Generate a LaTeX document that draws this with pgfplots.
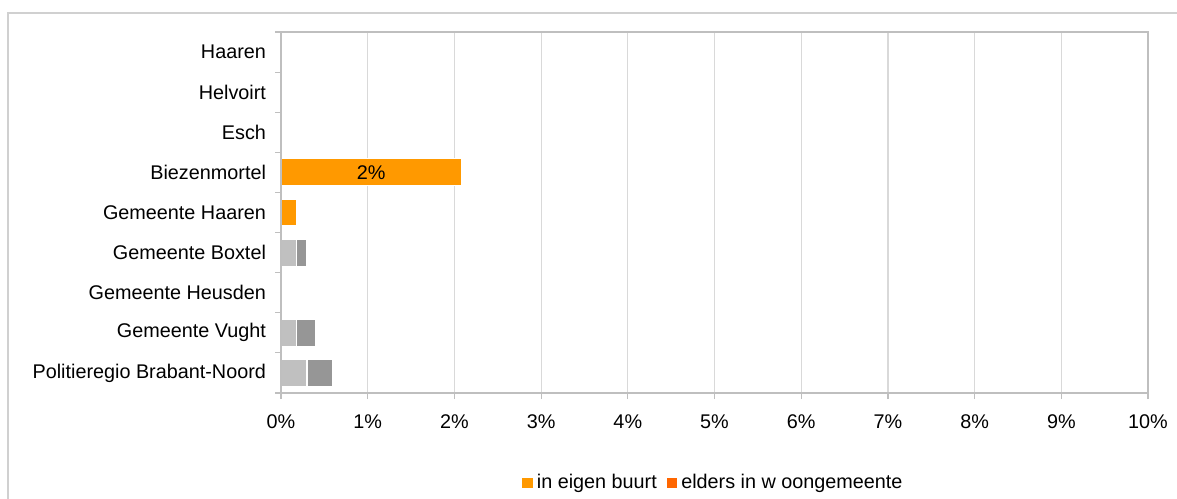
\documentclass[border=0pt]{standalone}
\usepackage{fontspec}
\setmainfont{Liberation Sans}
\usepackage{pgfplots}
\pgfplotsset{compat=1.18}
\usepackage{pgfplotstable}
\definecolor{eigen}{HTML}{FF9900}
\definecolor{elders}{HTML}{FF6600}
\definecolor{refl}{HTML}{C0C0C0}
\definecolor{refd}{HTML}{969696}
\definecolor{axisgray}{HTML}{BFBFBF}
\definecolor{gridgray}{HTML}{D9D9D9}
\definecolor{framegray}{HTML}{D0D0D0}
\pgfplotsset{
  layers/mylayers/.define layer set={axis background,axis grid,main,axis ticks,axis lines,axis tick labels,axis descriptions,axis foreground}{/pgfplots/layers/standard},
}
\pgfplotstableread{
y eigen reflight elders refdark lab
0 0    0.30 0 0.30 {}
1 0    0.18 0 0.22 {}
2 0    0    0 0    {}
3 0    0.18 0 0.12 {}
4 0.18 0    0 0    {}
5 2.08 0    0 0    2\%
6 0    0    0 0    {}
7 0    0    0 0    {}
8 0    0    0 0    {}
}\data
\begin{document}
\begin{tikzpicture}
\begin{axis}[
  set layers=mylayers,
  at={(140.5pt,52.5pt)}, anchor=south west,
  width=433.5pt, height=180.5pt, scale only axis,
  xbar stacked, bar width=13.5pt,
  xmin=0, xmax=10, ymin=-0.5, ymax=8.5,
  xtick={0,1,...,10},
  /pgf/number format/assume math mode=true,
  xticklabel={\pgfmathprintnumber{\tick}\%},
  ytick={-0.5,0.5,1.5,2.5,3.5,4.5,5.5,6.5,7.5,8.5},
  yticklabels={Politieregio Brabant-Noord,Gemeente Vught,Gemeente Heusden,Gemeente Boxtel,Gemeente Haaren,Biezenmortel,Esch,Helvoirt,Haaren},
  y tick label as interval,
  xtick pos=lower, ytick pos=left,
  xmajorgrids, grid style={gridgray, line width=0.6pt},
  axis line style={axisgray, line width=0.9pt},
  tick style={axisgray, line width=0.6pt},
  tick align=outside, major tick length=3pt,
  x tick label style={font=\fontsize{9.9}{12}\selectfont, yshift=-4.5pt},
  y tick label style={font=\fontsize{9.9}{12}\selectfont, xshift=-1pt},
  legend style={at={(0.5,-0.249)}, anchor=center, draw=none, fill=none,
    font=\fontsize{9.9}{12}\selectfont, legend columns=2,
    /tikz/every even column/.append style={column sep=3pt}},
  legend image code/.code={\fill[#1,draw=none] (-1.6pt,-2.6pt) rectangle (3.6pt,2.6pt);},
]
\addplot[fill=eigen, draw=white, line width=0.6pt,
  point meta=explicit symbolic,
  nodes near coords,
  every node near coord/.append style={anchor=center, font=\fontsize{9.9}{12}\selectfont, text=black}]
  table[x=eigen, y=y, meta=lab] {\data};
\addlegendentry{in eigen buurt}
\addplot[fill=refl, draw=white, line width=0.6pt, forget plot]
  table[x=reflight, y=y] {\data};
\addplot[fill=elders, draw=white, line width=0.6pt]
  table[x=elders, y=y] {\data};
\addlegendentry{elders in w oongemeente}
\addplot[fill=refd, draw=white, line width=0.6pt, forget plot]
  table[x=refdark, y=y] {\data};
\end{axis}
\draw[framegray, line width=0.75pt] (4pt,-5pt) -- (4pt,242.5pt) -- (600pt,242.5pt);
\pgfresetboundingbox
\useasboundingbox (0,0) rectangle (588.5pt,249pt);
\end{tikzpicture}
\end{document}
